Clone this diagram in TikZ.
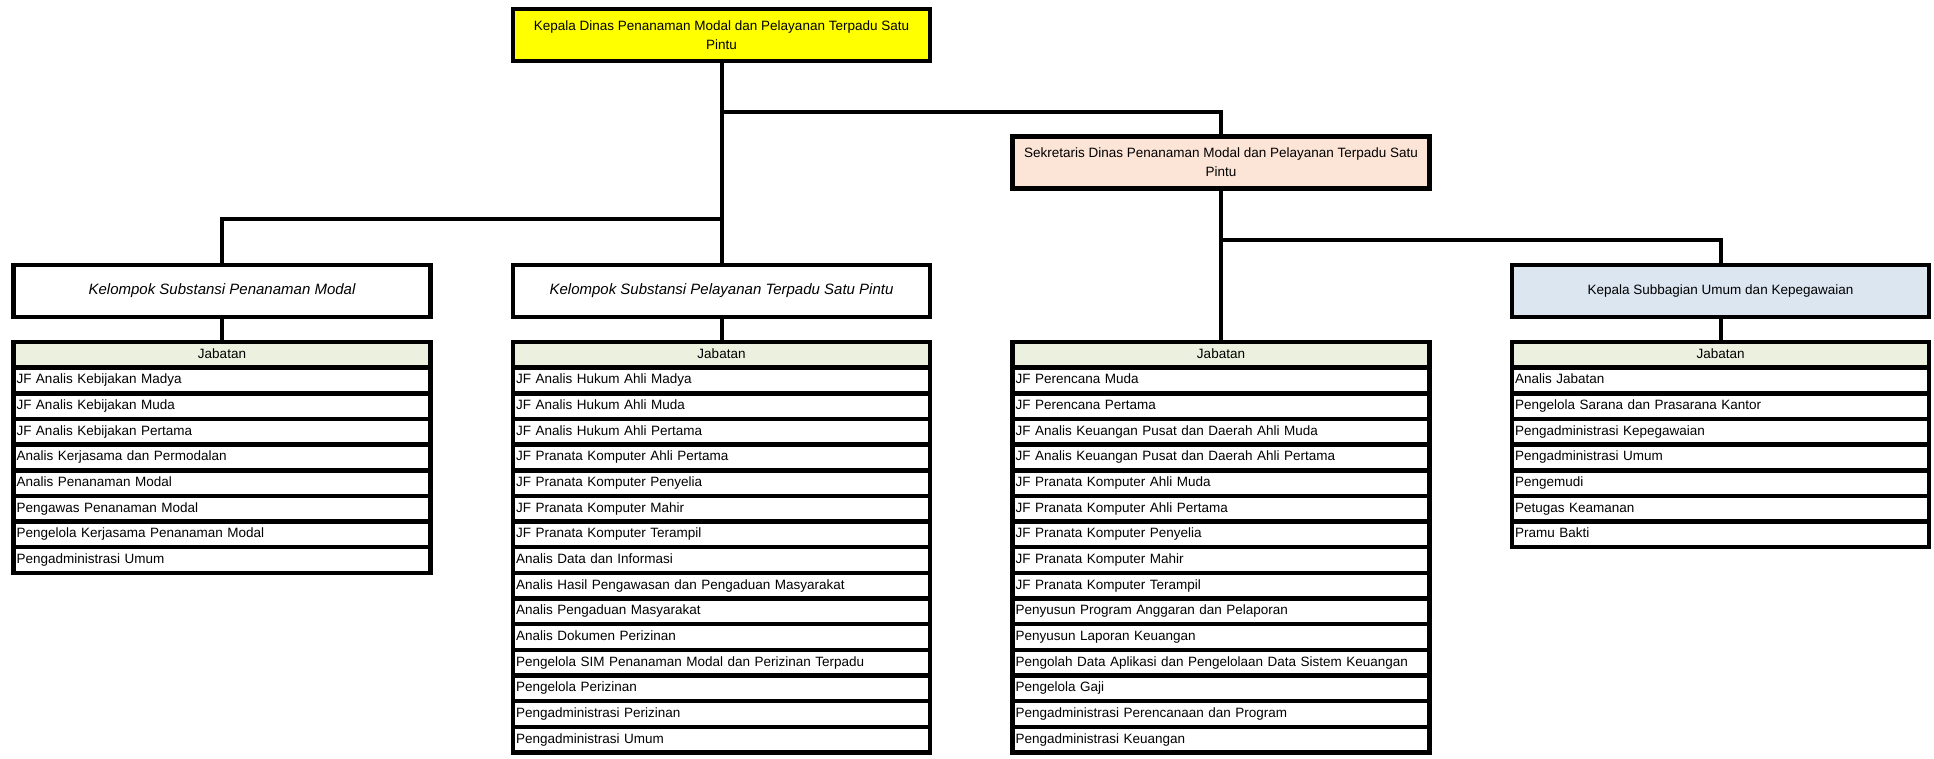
\documentclass[tikz,border=0pt]{standalone}
\usepackage{fontspec}
\setmainfont{Liberation Sans}
\usetikzlibrary{positioning}

\definecolor{kuning}{HTML}{FFFF00}
\definecolor{peach}{HTML}{FCE4D6}
\definecolor{birumuda}{HTML}{DCE6F1}
\definecolor{hijaumuda}{HTML}{EBF1DE}

\tikzset{
	box/.style={draw,line width=4.5pt,outer sep=0pt,minimum width=417pt,minimum height=52pt,
		align=center,font=\fontsize{13.5}{19}\selectfont},
	kelompok/.style={box,font=\fontsize{15}{18}\selectfont\itshape},
	jabatan/.style={draw,line width=4.5pt,outer sep=0pt,fill=hijaumuda,minimum width=417pt,
		minimum height=25.65pt,text height=10pt,text depth=3pt,font=\fontsize{13.5}{16}\selectfont},
	baris/.style={draw,line width=4.5pt,outer sep=0pt,fill=white,text width=411pt,
		inner xsep=3pt,inner ysep=0pt,minimum height=25.65pt,text height=10pt,text depth=3pt,
		align=left,font=\fontsize{13.5}{16}\selectfont},
	garis/.style={line width=4pt}
}

\begin{document}
\begin{tikzpicture}[x=1pt,y=-1pt]

\useasboundingbox (0,0) rectangle (1934,759);

\def\kolA{222}
\def\kolB{721.5}
\def\kolC{1221}
\def\kolD{1720.5}

\node[box,fill=kuning] (kadis) at (\kolB,35)
	{Kepala Dinas Penanaman Modal dan Pelayanan Terpadu Satu\\Pintu};
\node[box,fill=peach] (sekdis) at (\kolC,162.5)
	{Sekretaris Dinas Penanaman Modal dan Pelayanan Terpadu Satu\\Pintu};

\node[kelompok] (kel1) at (\kolA,291) {Kelompok Substansi Penanaman Modal};
\node[kelompok] (kel2) at (\kolB,291) {Kelompok Substansi Pelayanan Terpadu Satu Pintu};
\node[box,fill=birumuda] (kasubag) at (\kolD,291) {Kepala Subbagian Umum dan Kepegawaian};

% tabel jabatan
\foreach \k/\x in {1/\kolA,2/\kolB,3/\kolC,4/\kolD}
	\node[jabatan,anchor=north] (t\k r0) at (\x,342) {Jabatan};

\foreach \t [count=\i, remember=\i as \j (initially 0)] in {
	JF Analis Kebijakan Madya,
	JF Analis Kebijakan Muda,
	JF Analis Kebijakan Pertama,
	Analis Kerjasama dan Permodalan,
	Analis Penanaman Modal,
	Pengawas Penanaman Modal,
	Pengelola Kerjasama Penanaman Modal,
	Pengadministrasi Umum}
	\node[baris,below=0pt of t1r\j] (t1r\i) {\t};

\foreach \t [count=\i, remember=\i as \j (initially 0)] in {
	JF Analis Hukum Ahli Madya,
	JF Analis Hukum Ahli Muda,
	JF Analis Hukum Ahli Pertama,
	JF Pranata Komputer Ahli Pertama,
	JF Pranata Komputer Penyelia,
	JF Pranata Komputer Mahir,
	JF Pranata Komputer Terampil,
	Analis Data dan Informasi,
	Analis Hasil Pengawasan dan Pengaduan Masyarakat,
	Analis Pengaduan Masyarakat,
	Analis Dokumen Perizinan,
	Pengelola SIM Penanaman Modal dan Perizinan Terpadu,
	Pengelola Perizinan,
	Pengadministrasi Perizinan,
	Pengadministrasi Umum}
	\node[baris,below=0pt of t2r\j] (t2r\i) {\t};

\foreach \t [count=\i, remember=\i as \j (initially 0)] in {
	JF Perencana Muda,
	JF Perencana Pertama,
	JF Analis Keuangan Pusat dan Daerah Ahli Muda,
	JF Analis Keuangan Pusat dan Daerah Ahli Pertama,
	JF Pranata Komputer Ahli Muda,
	JF Pranata Komputer Ahli Pertama,
	JF Pranata Komputer Penyelia,
	JF Pranata Komputer Mahir,
	JF Pranata Komputer Terampil,
	Penyusun Program Anggaran dan Pelaporan,
	Penyusun Laporan Keuangan,
	Pengolah Data Aplikasi dan Pengelolaan Data Sistem Keuangan,
	Pengelola Gaji,
	Pengadministrasi Perencanaan dan Program,
	Pengadministrasi Keuangan}
	\node[baris,below=0pt of t3r\j] (t3r\i) {\t};

\foreach \t [count=\i, remember=\i as \j (initially 0)] in {
	Analis Jabatan,
	Pengelola Sarana dan Prasarana Kantor,
	Pengadministrasi Kepegawaian,
	Pengadministrasi Umum,
	Pengemudi,
	Petugas Keamanan,
	Pramu Bakti}
	\node[baris,below=0pt of t4r\j] (t4r\i) {\t};

% garis komando
\coordinate (cab1) at (\kolB,219);
\coordinate (cab2) at (\kolB,112);
\coordinate (cab3) at (\kolC,240);

\draw[garis] (kadis) -- (kel2);
\draw[garis] (kel1.north) |- (cab1);
\draw[garis] (sekdis.north) |- (cab2);
\draw[garis] (sekdis) -- (t3r0);
\draw[garis] (kasubag.north) |- (cab3);
\draw[garis] (kel1) -- (t1r0);
\draw[garis] (kel2) -- (t2r0);
\draw[garis] (kasubag) -- (t4r0);

\end{tikzpicture}
\end{document}
